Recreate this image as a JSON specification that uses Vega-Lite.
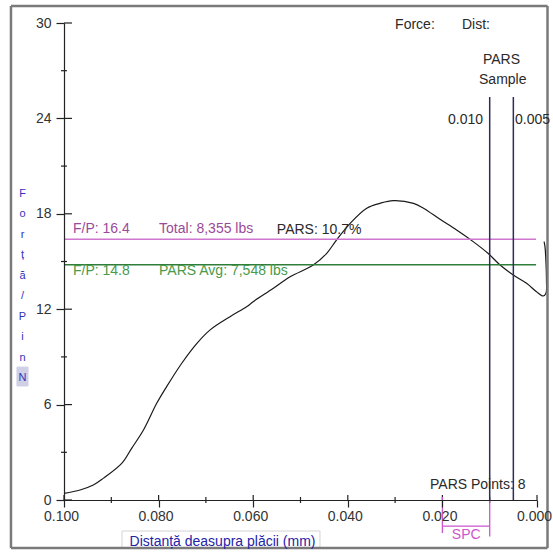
{
  "$schema": "https://vega.github.io/schema/vega-lite/v6.json",
  "width": 538,
  "height": 544,
  "autosize": "none",
  "padding": {"left": 10, "top": 5, "right": 5, "bottom": 3},
  "background": "white",
  "config": {
    "view": {"stroke": null},
    "font": "Liberation Sans"
  },
  "datasets": {
    "curve": [
      {"i": 1, "d": 0.1, "v": 0.42},
      {"i": 2, "d": 0.0966, "v": 0.63},
      {"i": 3, "d": 0.0938, "v": 0.94},
      {"i": 4, "d": 0.0917, "v": 1.36},
      {"i": 5, "d": 0.0878, "v": 2.3},
      {"i": 6, "d": 0.0857, "v": 3.25},
      {"i": 7, "d": 0.0832, "v": 4.4},
      {"i": 8, "d": 0.0804, "v": 6.08},
      {"i": 9, "d": 0.0783, "v": 7.13},
      {"i": 10, "d": 0.0751, "v": 8.6},
      {"i": 11, "d": 0.0719, "v": 9.85},
      {"i": 12, "d": 0.0691, "v": 10.7},
      {"i": 13, "d": 0.0649, "v": 11.53},
      {"i": 14, "d": 0.0614, "v": 12.15},
      {"i": 15, "d": 0.06, "v": 12.47},
      {"i": 16, "d": 0.0558, "v": 13.3},
      {"i": 17, "d": 0.0522, "v": 14.04},
      {"i": 18, "d": 0.0473, "v": 14.78},
      {"i": 19, "d": 0.0445, "v": 15.5},
      {"i": 20, "d": 0.0424, "v": 16.35},
      {"i": 21, "d": 0.0395, "v": 17.4},
      {"i": 22, "d": 0.036, "v": 18.35},
      {"i": 23, "d": 0.0332, "v": 18.66},
      {"i": 24, "d": 0.0304, "v": 18.83},
      {"i": 25, "d": 0.0261, "v": 18.66},
      {"i": 26, "d": 0.024, "v": 18.35},
      {"i": 27, "d": 0.0205, "v": 17.65},
      {"i": 28, "d": 0.017, "v": 16.98},
      {"i": 29, "d": 0.0135, "v": 16.25},
      {"i": 30, "d": 0.0103, "v": 15.5},
      {"i": 31, "d": 0.0078, "v": 14.78},
      {"i": 32, "d": 0.005, "v": 14.15},
      {"i": 33, "d": 0.0022, "v": 13.63},
      {"i": 34, "d": 0.0001, "v": 13.1},
      {"i": 35, "d": -0.0013, "v": 12.83},
      {"i": 36, "d": -0.0019, "v": 13.0},
      {"i": 37, "d": -0.002, "v": 13.84},
      {"i": 38, "d": -0.0019, "v": 14.9},
      {"i": 39, "d": -0.0017, "v": 15.9},
      {"i": 40, "d": -0.0015, "v": 16.25}
    ],
    "hlines": [
      {"grp": "m", "d1": 0.1, "d2": 0.0002, "v": 16.4},
      {"grp": "g", "d1": 0.1, "d2": 0.0002, "v": 14.8}
    ],
    "vlines": [
      {"d": 0.01, "v1": 0, "v2": 25.35},
      {"d": 0.005, "v1": 0, "v2": 25.35}
    ],
    "xticks": [
      {"p": 0.1, "a": 0, "b": 0.31}, {"p": 0.08, "a": 0, "b": 0.31}, {"p": 0.06, "a": 0, "b": 0.31},
      {"p": 0.04, "a": 0, "b": 0.31}, {"p": 0.02, "a": 0, "b": 0.31}, {"p": 0.0, "a": 0, "b": 0.31},
      {"p": 0.09, "a": -0.19, "b": 0.19}, {"p": 0.07, "a": -0.19, "b": 0.19}, {"p": 0.05, "a": -0.19, "b": 0.19},
      {"p": 0.03, "a": -0.19, "b": 0.19}, {"p": 0.01, "a": -0.19, "b": 0.19}
    ],
    "yticks": [
      {"q": 0, "a": 0.1, "b": 0.09831}, {"q": 6, "a": 0.1, "b": 0.09831}, {"q": 12, "a": 0.1, "b": 0.09831},
      {"q": 18, "a": 0.1, "b": 0.09831}, {"q": 24, "a": 0.1, "b": 0.09831}, {"q": 30, "a": 0.1, "b": 0.09831},
      {"q": 3, "a": 0.10063, "b": 0.09937}, {"q": 9, "a": 0.10063, "b": 0.09937}, {"q": 15, "a": 0.10063, "b": 0.09937},
      {"q": 21, "a": 0.10063, "b": 0.09937}, {"q": 27, "a": 0.10063, "b": 0.09937}
    ],
    "spc": [
      {"x1": 0.02, "x2": 0.02, "y1": 0.19, "y2": -2.08},
      {"x1": 0.01, "x2": 0.01, "y1": 0, "y2": -2.3},
      {"x1": 0.02, "x2": 0.01, "y1": -1.64, "y2": -1.64}
    ],
    "border": [
      {"x1": 0.11121, "x2": -0.00222, "y1": 31.07, "y2": 31.07},
      {"x1": 0.11121, "x2": -0.00222, "y1": -3.02, "y2": -3.02},
      {"x1": 0.11121, "x2": 0.11121, "y1": 31.07, "y2": -3.02},
      {"x1": -0.00222, "x2": -0.00222, "y1": 31.07, "y2": -3.02}
    ],
    "boxes": [
      {"grp": "title", "a1": 0.08774, "a2": 0.04588, "b1": -1.95, "b2": -3.02},
      {"grp": "n", "a1": 0.10994, "a2": 0.10761, "b1": 8.36, "b2": 7.17}
    ],
    "labels": [
      {"grp": "m", "d": 0.0981, "v": 17.04, "t": "F/P: 16.4"},
      {"grp": "m", "d": 0.0799, "v": 17.04, "t": "Total: 8,355 lbs"},
      {"grp": "k", "d": 0.055, "v": 16.98, "t": "PARS: 10.7%"},
      {"grp": "g", "d": 0.0981, "v": 14.4, "t": "F/P: 14.8"},
      {"grp": "g", "d": 0.0799, "v": 14.4, "t": "PARS Avg: 7,548 lbs"},
      {"grp": "k", "d": 0.03, "v": 29.87, "t": "Force:"},
      {"grp": "k", "d": 0.01586, "v": 29.87, "t": "Dist:"},
      {"grp": "k", "d": 0.01142, "v": 27.67, "t": "PARS"},
      {"grp": "k", "d": 0.01226, "v": 26.42, "t": "Sample"},
      {"grp": "k", "d": 0.01882, "v": 23.9, "t": "0.010"},
      {"grp": "k", "d": 0.00465, "v": 23.9, "t": "0.005"},
      {"grp": "k", "d": 0.02262, "v": 0.94, "t": "PARS Points: 8"},
      {"grp": "s", "d": 0.018, "v": -2.2, "t": "SPC"}
    ]
  },
  "layer": [
    {
      "data": {"name": "curve"},
      "mark": {"type": "line", "color": "#1a1a1a", "strokeWidth": 1.2, "interpolate": "catmull-rom"},
      "encoding": {
        "x": {
          "field": "d", "type": "quantitative",
          "scale": {"domain": [0, 0.1], "range": [527, 54], "nice": false, "zero": false},
          "axis": {
            "orient": "bottom", "offset": -49, "grid": false, "zindex": 1,
            "values": [0, 0.02, 0.04, 0.06, 0.08, 0.1],
            "tickSize": 7, "format": ".3f",
            "tickColor": "#222", "tickWidth": 1.2, "domainColor": "#222", "domainWidth": 1.2,
            "labelFont": "Liberation Sans", "labelFontSize": 14, "labelColor": "#333",
            "labelPadding": 2, "labelOffset": -3, "labelFlush": false, "labelOverlap": false, "labelBound": false,
            "title": "Distanță deasupra plăcii (mm)",
            "titleFont": "Liberation Sans", "titleFontSize": 14, "titleFontWeight": "normal",
            "titleColor": "#2323a8", "titleX": 212, "titleY": 41, "titleAlign": "center",
            "titleBaseline": "middle", "titleAnchor": null
          }
        },
        "y": {
          "field": "v", "type": "quantitative",
          "scale": {"domain": [0, 30], "range": [495, 18], "nice": false, "zero": false},
          "axis": {
            "orient": "left", "offset": -54, "grid": false, "zindex": 1,
            "values": [0, 6, 12, 18, 24, 30],
            "tickSize": 8,
            "tickColor": "#222", "tickWidth": 1.2, "domainColor": "#222", "domainWidth": 1.2,
            "labelFont": "Liberation Sans", "labelFontSize": 14, "labelColor": "#333",
            "labelPadding": 5, "labelOverlap": false, "labelBound": false,
            "title": ["F", "o", "r", "ț", "ă", "/", "P", "i", "n", "N"],
            "titleFont": "Liberation Sans", "titleFontSize": 11, "titleFontWeight": "normal",
            "titleColor": "#3333bb", "titleAngle": 0, "titleX": -42, "titleY": 182,
            "titleAlign": "center", "titleBaseline": "top", "titleLineHeight": 20.5
          }
        },
        "order": {"field": "i", "type": "quantitative"}
      }
    },
    {
      "data": {"name": "boxes"},
      "mark": {"type": "rect", "strokeWidth": 1},
      "encoding": {
        "x": {"field": "a1", "type": "quantitative",
          "scale": {"domain": [0, 0.1], "range": [527, 54], "nice": false, "zero": false}},
        "x2": {"field": "a2"},
        "y": {"field": "b1", "type": "quantitative",
          "scale": {"domain": [0, 30], "range": [495, 18], "nice": false, "zero": false}},
        "y2": {"field": "b2"},
        "fill": {"field": "grp", "type": "nominal", "legend": null,
          "scale": {"domain": ["title", "n"], "range": ["#ffffff", "#cfcfe6"]}},
        "stroke": {"field": "grp", "type": "nominal", "legend": null,
          "scale": {"domain": ["title", "n"], "range": ["#d4d4d4", "#cfcfe6"]}}
      }
    },
    {
      "data": {"name": "border"},
      "mark": {"type": "rule", "strokeWidth": 2.5, "color": "#7a7a7a"},
      "encoding": {
        "x": {"field": "x1", "type": "quantitative",
          "scale": {"domain": [0, 0.1], "range": [527, 54], "nice": false, "zero": false}},
        "x2": {"field": "x2"},
        "y": {"field": "y1", "type": "quantitative",
          "scale": {"domain": [0, 30], "range": [495, 18], "nice": false, "zero": false}},
        "y2": {"field": "y2"}
      }
    },
    {
      "data": {"name": "xticks"},
      "mark": {"type": "rule", "strokeWidth": 1.2, "color": "#222"},
      "encoding": {
        "x": {"field": "p", "type": "quantitative",
          "scale": {"domain": [0, 0.1], "range": [527, 54], "nice": false, "zero": false}},
        "y": {"field": "a", "type": "quantitative",
          "scale": {"domain": [0, 30], "range": [495, 18], "nice": false, "zero": false}},
        "y2": {"field": "b"}
      }
    },
    {
      "data": {"name": "yticks"},
      "mark": {"type": "rule", "strokeWidth": 1.2, "color": "#222"},
      "encoding": {
        "x": {"field": "a", "type": "quantitative",
          "scale": {"domain": [0, 0.1], "range": [527, 54], "nice": false, "zero": false}},
        "x2": {"field": "b"},
        "y": {"field": "q", "type": "quantitative",
          "scale": {"domain": [0, 30], "range": [495, 18], "nice": false, "zero": false}}
      }
    },
    {
      "data": {"name": "hlines"},
      "mark": {"type": "rule", "strokeWidth": 1.4},
      "encoding": {
        "x": {"field": "d1", "type": "quantitative",
          "scale": {"domain": [0, 0.1], "range": [527, 54], "nice": false, "zero": false}},
        "x2": {"field": "d2"},
        "y": {"field": "v", "type": "quantitative",
          "scale": {"domain": [0, 30], "range": [495, 18], "nice": false, "zero": false}},
        "color": {
          "field": "grp", "type": "nominal", "legend": null,
          "scale": {"domain": ["m", "g"], "range": ["#cf77cf", "#2f7f3a"]}
        }
      }
    },
    {
      "data": {"name": "vlines"},
      "mark": {"type": "rule", "strokeWidth": 1.5, "color": "#2d2d5a"},
      "encoding": {
        "x": {"field": "d", "type": "quantitative",
          "scale": {"domain": [0, 0.1], "range": [527, 54], "nice": false, "zero": false}},
        "y": {"field": "v1", "type": "quantitative",
          "scale": {"domain": [0, 30], "range": [495, 18], "nice": false, "zero": false}},
        "y2": {"field": "v2"}
      }
    },
    {
      "data": {"name": "spc"},
      "mark": {"type": "rule", "strokeWidth": 1.3, "color": "#cc55cc"},
      "encoding": {
        "x": {"field": "x1", "type": "quantitative",
          "scale": {"domain": [0, 0.1], "range": [527, 54], "nice": false, "zero": false}},
        "x2": {"field": "x2"},
        "y": {"field": "y1", "type": "quantitative",
          "scale": {"domain": [0, 30], "range": [495, 18], "nice": false, "zero": false}},
        "y2": {"field": "y2"}
      }
    },
    {
      "data": {"name": "labels"},
      "mark": {"type": "text", "align": "left", "baseline": "middle", "font": "Liberation Sans", "fontSize": 14},
      "encoding": {
        "x": {"field": "d", "type": "quantitative",
          "scale": {"domain": [0, 0.1], "range": [527, 54], "nice": false, "zero": false}},
        "y": {"field": "v", "type": "quantitative",
          "scale": {"domain": [0, 30], "range": [495, 18], "nice": false, "zero": false}},
        "text": {"field": "t", "type": "nominal"},
        "color": {
          "field": "grp", "type": "nominal", "legend": null,
          "scale": {"domain": ["m", "g", "k", "s"], "range": ["#9a4a9a", "#4a9a4a", "#2a2a2a", "#cc55cc"]}
        }
      }
    }
  ],
  "resolve": {
    "scale": {"color": "independent", "fill": "independent", "stroke": "independent"}
  }
}
